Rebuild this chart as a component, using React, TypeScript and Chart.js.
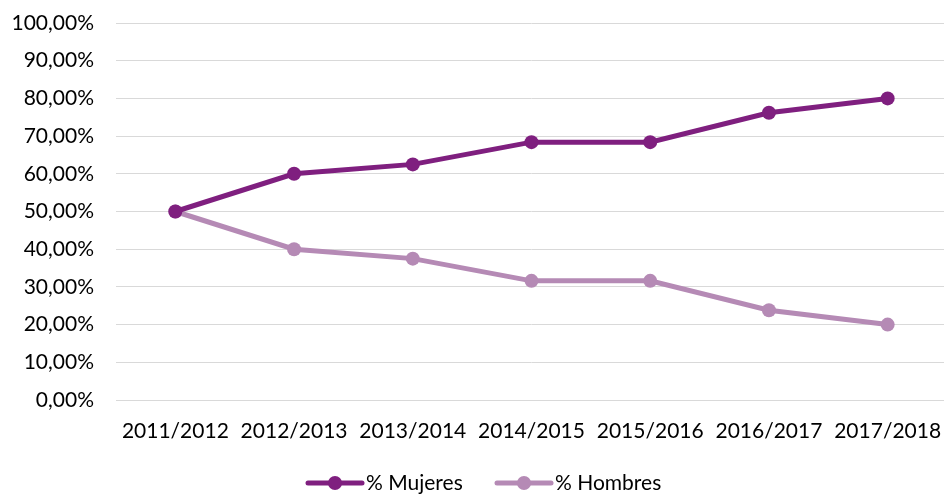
import React, { useEffect, useRef } from "react";
import { Chart, registerables } from "chart.js";

Chart.register(...registerables);

const categories = ["2011/2012", "2012/2013", "2013/2014", "2014/2015", "2015/2016", "2016/2017", "2017/2018"];
const mujeres = [50, 60, 62.5, 68.4, 68.4, 76.2, 80];
const hombres = [50, 40, 37.5, 31.6, 31.6, 23.8, 20];
const seriesNames = ["% Mujeres", "% Hombres"];
const colors = ["#7F1F7F", "#B58AB5"];

const FONT = "Lato, 'Open Sans', sans-serif";

const legendPlugin = {
  id: "customLegend",
  afterDraw(chart: any) {
    const ctx = chart.ctx;
    const y = 483;
    const items = [
      { x: 308, name: seriesNames[0], color: colors[0] },
      { x: 497, name: seriesNames[1], color: colors[1] },
    ];
    ctx.save();
    for (const it of items) {
      ctx.strokeStyle = it.color;
      ctx.lineWidth = 5;
      ctx.lineCap = "round";
      ctx.beginPath();
      ctx.moveTo(it.x, y);
      ctx.lineTo(it.x + 54, y);
      ctx.stroke();
      ctx.fillStyle = it.color;
      ctx.beginPath();
      ctx.arc(it.x + 27, y, 7, 0, Math.PI * 2);
      ctx.fill();
      ctx.fillStyle = "#000";
      ctx.font = `21px ${FONT}`;
      ctx.textBaseline = "middle";
      ctx.textAlign = "left";
      ctx.fillText(it.name, it.x + 58, y);
    }
    ctx.restore();
  },
};

export default function App() {
  const ref = useRef<HTMLCanvasElement>(null);
  useEffect(() => {
    document.body.style.margin = "0";
    const chart = new Chart(ref.current!, {
      type: "line",
      data: {
        labels: categories,
        datasets: [
          {
            label: seriesNames[0],
            data: mujeres,
            borderColor: colors[0],
            backgroundColor: colors[0],
            borderWidth: 5,
            pointRadius: 7,
            pointHoverRadius: 7,
            pointBorderWidth: 0,
            tension: 0,
          },
          {
            label: seriesNames[1],
            data: hombres,
            borderColor: colors[1],
            backgroundColor: colors[1],
            borderWidth: 5,
            pointRadius: 7,
            pointHoverRadius: 7,
            pointBorderWidth: 0,
            tension: 0,
          },
        ],
      },
      options: {
        animation: false,
        responsive: false,
        layout: { padding: { top: 23, left: 0, right: 0, bottom: 0 } },
        plugins: { legend: { display: false }, tooltip: { enabled: false } },
        scales: {
          x: {
            offset: true,
            grid: { display: false, drawTicks: false },
            border: { color: "#D9D9D9", width: 1 },
            ticks: { color: "#000", font: { family: FONT, size: 21 }, padding: 19, maxRotation: 0 },
            afterFit: (s: any) => {
              s.height = 95;
              s.paddingLeft = 0;
              s.paddingRight = 0;
            },
          },
          y: {
            min: 0,
            max: 100,
            grid: { color: "#D9D9D9", lineWidth: 1, drawTicks: false },
            border: { display: false },
            ticks: {
              stepSize: 10,
              color: "#000",
              font: { family: FONT, size: 21 },
              padding: 22,
              callback: (v: any) => Number(v).toFixed(2).replace(".", ",") + "%",
            },
            afterFit: (s: any) => {
              s.width = 116;
              s.paddingTop = 0;
              s.paddingBottom = 0;
            },
          },
        },
      },
      plugins: [legendPlugin],
    });
    return () => chart.destroy();
  }, []);
  return (
    <div style={{ width: 944, height: 495, overflow: "hidden" }}>
      <canvas ref={ref} width={954} height={495} style={{ display: "block" }} />
    </div>
  );
}
